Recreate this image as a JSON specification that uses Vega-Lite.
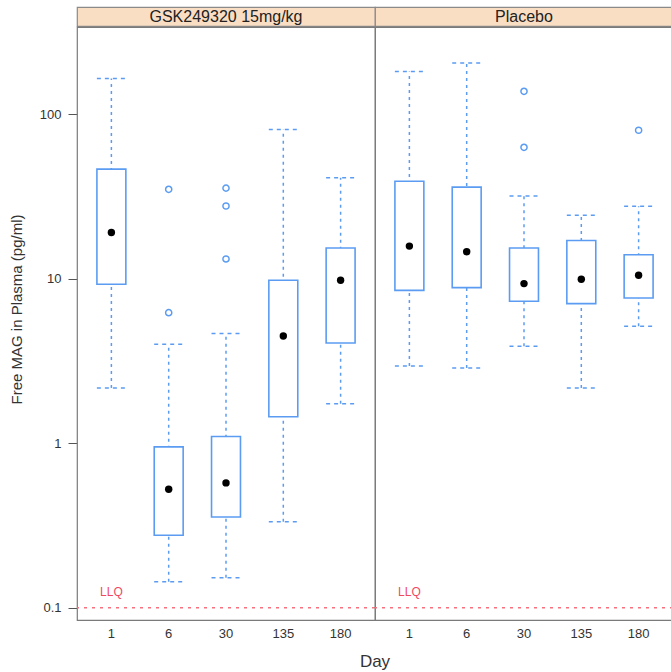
{
  "$schema": "https://vega.github.io/schema/vega-lite/v6.json",
  "padding": {"left": 9, "top": 6, "right": 0, "bottom": 0},
  "background": "white",
  "spacing": -2,
  "config": {
    "font": "Liberation Sans",
    "view": {"stroke": "#7a7a7a", "strokeWidth": 1.2},
    "facet": {"spacing": 0},
    "axis": {"labelFont": "Liberation Sans", "labelFontSize": 13, "labelColor": "#333", "titleFont": "Liberation Sans", "titleFontWeight": "normal", "titleColor": "#333", "grid": false, "domain": false, "tickColor": "#555"},
    "axisY": {"tickSize": 9, "labelPadding": 7, "titleFontSize": 15, "titlePadding": 15, "minExtent": 38, "maxExtent": 38},
    "axisX": {"ticks": false, "labelPadding": 7, "labelAngle": 0}
  },
  "datasets": {
    "strips": [
      {"group": "GSK249320 15mg/kg", "row": "strip"},
      {"group": "Placebo", "row": "strip"}
    ],
    "main": [
      {"kind": "box", "group": "GSK249320 15mg/kg", "day": "1", "lo": 2.17, "q1": 9.26, "med": 19.1, "q3": 46.4, "hi": 165},
      {"kind": "box", "group": "GSK249320 15mg/kg", "day": "6", "lo": 0.144, "q1": 0.276, "med": 0.525, "q3": 0.95, "hi": 4.0},
      {"kind": "box", "group": "GSK249320 15mg/kg", "day": "30", "lo": 0.152, "q1": 0.356, "med": 0.574, "q3": 1.10, "hi": 4.65},
      {"kind": "box", "group": "GSK249320 15mg/kg", "day": "135", "lo": 0.333, "q1": 1.45, "med": 4.49, "q3": 9.8, "hi": 81},
      {"kind": "box", "group": "GSK249320 15mg/kg", "day": "180", "lo": 1.74, "q1": 4.07, "med": 9.8, "q3": 15.4, "hi": 41.2},
      {"kind": "box", "group": "Placebo", "day": "1", "lo": 2.95, "q1": 8.5, "med": 15.8, "q3": 39.2, "hi": 182},
      {"kind": "box", "group": "Placebo", "day": "6", "lo": 2.87, "q1": 8.84, "med": 14.6, "q3": 36.1, "hi": 205},
      {"kind": "box", "group": "Placebo", "day": "30", "lo": 3.89, "q1": 7.3, "med": 9.35, "q3": 15.4, "hi": 31.9},
      {"kind": "box", "group": "Placebo", "day": "135", "lo": 2.17, "q1": 7.06, "med": 9.93, "q3": 17.1, "hi": 24.3},
      {"kind": "box", "group": "Placebo", "day": "180", "lo": 5.14, "q1": 7.64, "med": 10.5, "q3": 14.0, "hi": 27.6},
      {"kind": "out", "group": "GSK249320 15mg/kg", "day": "6", "val": 35.0},
      {"kind": "out", "group": "GSK249320 15mg/kg", "day": "6", "val": 6.22},
      {"kind": "out", "group": "GSK249320 15mg/kg", "day": "30", "val": 35.6},
      {"kind": "out", "group": "GSK249320 15mg/kg", "day": "30", "val": 27.7},
      {"kind": "out", "group": "GSK249320 15mg/kg", "day": "30", "val": 13.2},
      {"kind": "out", "group": "Placebo", "day": "30", "val": 138},
      {"kind": "out", "group": "Placebo", "day": "30", "val": 63},
      {"kind": "out", "group": "Placebo", "day": "180", "val": 80},
      {"kind": "llq", "group": "GSK249320 15mg/kg", "day": "1", "val": 0.1, "label": "LLQ"},
      {"kind": "llq", "group": "Placebo", "day": "1", "val": 0.1, "label": "LLQ"}
    ]
  },
  "vconcat": [
    {
      "data": {"name": "strips"},
      "facet": {"column": {"field": "group", "type": "nominal", "header": {"title": null, "labels": false}}},
      "spacing": 0,
      "bounds": "flush",
      "spec": {
        "width": 298,
        "height": 19,
        "view": {"fill": "#FADEC4", "stroke": "#8a8a8a", "strokeWidth": 1.2},
        "mark": {"type": "text", "fontSize": 16, "color": "#222", "font": "Liberation Sans"},
        "encoding": {
          "text": {"field": "group", "type": "nominal"},
          "y": {"field": "row", "type": "nominal",
                "axis": {"labels": false, "ticks": false, "domain": false, "title": ".", "titleColor": "transparent", "titleFontSize": 15, "titlePadding": 15}}
        }
      }
    },
    {
      "data": {"name": "main"},
      "facet": {"column": {"field": "group", "type": "nominal",
                           "header": {"title": "Day", "titleOrient": "bottom", "labels": false, "titleFontSize": 17, "titleFont": "Liberation Sans", "titleFontWeight": "normal", "titleColor": "#333", "titlePadding": 4}}},
      "spacing": 0,
      "bounds": "flush",
      "spec": {
        "width": 298,
        "height": 593,
        "encoding": {
          "x": {"field": "day", "type": "nominal", "title": null, "sort": ["1", "6", "30", "135", "180"],
                "scale": {"type": "band", "domain": ["1", "6", "30", "135", "180"], "paddingInner": 0.495, "paddingOuter": 0.3475}}
        },
        "layer": [
          {
            "transform": [{"filter": "datum.kind === 'box'"}],
            "mark": {"type": "rule", "color": "#5B9CF2", "strokeWidth": 1.5, "strokeDash": [3, 4]},
            "encoding": {
              "y": {"field": "lo", "type": "quantitative", "title": "Free MAG in Plasma (pg/ml)",
                    "scale": {"type": "log", "domain": [0.0842, 339.6], "nice": false},
                    "axis": {"values": [0.1, 1, 10, 100], "format": "~g", "titleY": 282}},
              "y2": {"field": "hi"}
            }
          },
          {
            "transform": [{"filter": "datum.kind === 'box'"}],
            "mark": {"type": "rule", "color": "#5B9CF2", "strokeWidth": 1.5, "strokeDash": [4, 4], "xOffset": -14.5, "x2Offset": 14.5},
            "encoding": {
              "x2": {"field": "day"},
              "y": {"field": "lo", "type": "quantitative", "title": "Free MAG in Plasma (pg/ml)"}
            }
          },
          {
            "transform": [{"filter": "datum.kind === 'box'"}],
            "mark": {"type": "rule", "color": "#5B9CF2", "strokeWidth": 1.5, "strokeDash": [4, 4], "xOffset": -14.5, "x2Offset": 14.5},
            "encoding": {
              "x2": {"field": "day"},
              "y": {"field": "hi", "type": "quantitative", "title": "Free MAG in Plasma (pg/ml)"}
            }
          },
          {
            "transform": [{"filter": "datum.kind === 'box'"}],
            "mark": {"type": "bar", "fill": "white", "stroke": "#5B9CF2", "strokeWidth": 1.6},
            "encoding": {
              "y": {"field": "q1", "type": "quantitative", "title": "Free MAG in Plasma (pg/ml)"},
              "y2": {"field": "q3"}
            }
          },
          {
            "transform": [{"filter": "datum.kind === 'box'"}],
            "mark": {"type": "point", "filled": true, "color": "black", "size": 55, "opacity": 1},
            "encoding": {
              "y": {"field": "med", "type": "quantitative", "title": "Free MAG in Plasma (pg/ml)"}
            }
          },
          {
            "transform": [{"filter": "datum.kind === 'out'"}],
            "mark": {"type": "point", "filled": false, "color": "#5B9CF2", "size": 38, "strokeWidth": 1.5, "opacity": 1},
            "encoding": {
              "y": {"field": "val", "type": "quantitative", "title": "Free MAG in Plasma (pg/ml)"}
            }
          },
          {
            "transform": [{"filter": "datum.kind === 'llq'"}],
            "mark": {"type": "rule", "color": "#F7707F", "strokeWidth": 1.5, "strokeDash": [3, 5]},
            "encoding": {
              "x": null,
              "y": {"field": "val", "type": "quantitative", "title": "Free MAG in Plasma (pg/ml)"}
            }
          },
          {
            "transform": [{"filter": "datum.kind === 'llq'"}],
            "mark": {"type": "text", "color": "#F04A5F", "fontSize": 12, "dy": -16, "font": "Liberation Sans"},
            "encoding": {
              "y": {"field": "val", "type": "quantitative", "title": "Free MAG in Plasma (pg/ml)"},
              "text": {"field": "label", "type": "nominal"}
            }
          }
        ]
      }
    }
  ]
}
